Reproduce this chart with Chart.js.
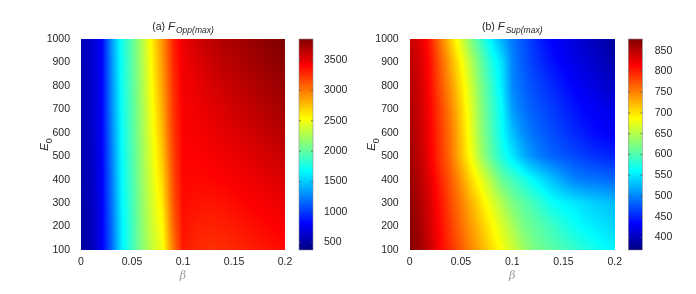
<!DOCTYPE html>
<html>
<head>
<meta charset="utf-8">
<script src="https://cdn.jsdelivr.net/npm/chart.js@4.4.1/dist/chart.umd.min.js"></script>
<style>
html,body{margin:0;padding:0;background:#fff;}
#wrap{position:relative;width:696px;height:294px;overflow:hidden;}
canvas{position:absolute;top:0;}
</style>
</head>
<body>
<div id="wrap">
<canvas id="c1" width="348" height="294" style="left:0"></canvas>
<canvas id="c2" width="348" height="294" style="left:348px"></canvas>
</div>
<script>
// ---- data ----
const betaValues = [0,0.01,0.02,0.03,0.04,0.05,0.06,0.07,0.08,0.09,0.10,0.11,0.12,0.13,0.14,0.15,0.16,0.17,0.18,0.19,0.20];
const e0Values = [100,200,300,400,500,600,700,800,900,1000];

// F_Opp(max): one row per E0 (100 -> 1000), one value per beta
const oppE100  = [480,560,760,1150,1620,1880,2140,2350,2500,2980,3330,3280,3260,3250,3260,3280,3300,3320,3340,3360,3380];
const oppE200  = [490,570,765,1170,1630,1890,2160,2380,2560,3050,3360,3320,3300,3300,3310,3330,3350,3370,3390,3410,3430];
const oppE300  = [500,580,770,1190,1650,1900,2175,2410,2620,3100,3380,3360,3350,3350,3360,3380,3400,3420,3440,3460,3480];
const oppE400  = [510,590,775,1210,1665,1920,2190,2440,2680,3140,3400,3390,3390,3400,3415,3435,3455,3475,3495,3515,3535];
const oppE500  = [520,600,778,1230,1680,1935,2205,2470,2740,3170,3410,3410,3420,3440,3460,3480,3500,3525,3550,3575,3600];
const oppE600  = [530,610,780,1250,1695,1950,2220,2500,2790,3200,3420,3430,3450,3475,3500,3525,3550,3580,3610,3640,3670];
const oppE700  = [538,618,783,1270,1708,1960,2235,2530,2830,3220,3430,3450,3480,3510,3540,3570,3600,3630,3660,3690,3720];
const oppE800  = [545,625,786,1285,1720,1970,2250,2560,2865,3240,3445,3470,3510,3550,3585,3615,3645,3675,3705,3735,3765];
const oppE900  = [553,633,788,1300,1730,1980,2265,2585,2895,3260,3460,3500,3555,3595,3635,3665,3695,3725,3755,3785,3810];
const oppE1000 = [560,640,790,1320,1740,1990,2280,2610,2920,3280,3480,3540,3600,3640,3680,3710,3740,3770,3800,3825,3850];

// F_Sup(max)
const supE100  = [876,863,840,814,792,770,748,727,705,685,665,644,623,614,605,597,588,579,571,563,557];
const supE200  = [873,860,835,810,785,761,738,715,692,669,646,623,612,601,590,578,567,558,552,546,540];
const supE300  = [870,856,832,806,778,753,726,700,674,648,623,608,594,579,564,557,550,543,537,532,528];
const supE400  = [866,850,826,798,770,740,706,677,645,612,595,578,560,544,528,513,500,494,491,488,485];
const supE500  = [862,845,818,788,759,720,683,640,605,575,550,525,505,492,483,476,470,464,458,454,450];
const supE600  = [858,842,817,786,756,717,675,632,597,563,530,505,490,479,470,462,454,446,438,433,428];
const supE700  = [855,840,814,782,750,711,671,627,593,560,512,493,480,471,462,453,444,435,430,425,420];
const supE800  = [852,838,810,775,740,702,662,620,586,551,502,485,472,462,452,443,433,425,418,411,405];
const supE900  = [848,835,808,768,730,690,650,610,575,545,500,480,465,452,440,431,423,415,408,400,393];
const supE1000 = [842,830,800,755,712,668,623,586,551,521,494,476,460,444,431,424,416,408,400,393,385];

const xTickValues = [0,0.05,0.1,0.15,0.2];
const yTickValues = [100,200,300,400,500,600,700,800,900,1000];
const oppBarTicks = [500,1000,1500,2000,2500,3000,3500];
const supBarTicks = [400,450,500,550,600,650,700,750,800,850];
const oppRange = [375,3845];
const supRange = [370,878];

const oppRows = [oppE100,oppE200,oppE300,oppE400,oppE500,oppE600,oppE700,oppE800,oppE900,oppE1000];
const supRows = [supE100,supE200,supE300,supE400,supE500,supE600,supE700,supE800,supE900,supE1000];

// ---- helpers ----
const FONT = "'Liberation Sans', Arial, Helvetica, sans-serif";
const TXT = '#262626';
function clamp(v,a,b){return v<a?a:(v>b?b:v);}
function jet(t){
  t = clamp(t,0,1);
  return [clamp(1.5-Math.abs(4*t-3),0,1), clamp(1.5-Math.abs(4*t-2),0,1), clamp(1.5-Math.abs(4*t-1),0,1)];
}
function locate(arr, v){
  if (v <= arr[0]) return [0,0];
  if (v >= arr[arr.length-1]) return [arr.length-2,1];
  for (let i=0;i<arr.length-1;i++){
    if (v>=arr[i] && v<=arr[i+1]) return [i,(v-arr[i])/(arr[i+1]-arr[i])];
  }
  return [0,0];
}
function sample(rows,b,e){
  const [i,fx] = locate(betaValues,b);
  const [j,fy] = locate(e0Values,e);
  const v00=rows[j][i], v01=rows[j][i+1], v10=rows[j+1][i], v11=rows[j+1][i+1];
  return (v00*(1-fx)+v01*fx)*(1-fy) + (v10*(1-fx)+v11*fx)*fy;
}

const heatPlugin = {
  id:'heat',
  beforeDatasetsDraw(chart){
    const o = chart.options.plugins.heat;
    const {ctx, chartArea:a, scales} = chart;
    const x = scales.x, y = scales.y, cb = scales.cb;
    const L = Math.round(x.getPixelForValue(betaValues[0]));
    const R = Math.round(x.getPixelForValue(betaValues[betaValues.length-1]));
    const T = Math.round(y.getPixelForValue(e0Values[e0Values.length-1]));
    const B = Math.round(y.getPixelForValue(e0Values[0]));
    const w = R-L, h = B-T;
    const off = document.createElement('canvas');
    off.width = w; off.height = h;
    const octx = off.getContext('2d');
    const img = octx.createImageData(w,h);
    const lo = o.range[0], hi = o.range[1];
    for (let py=0; py<h; py++){
      const ev = y.getValueForPixel(T+py+0.5);
      for (let px=0; px<w; px++){
        const bv = x.getValueForPixel(L+px+0.5);
        const v = sample(o.rows,bv,ev);
        const c = jet((v-lo)/(hi-lo));
        const k = (py*w+px)*4;
        img.data[k]=Math.round(c[0]*255); img.data[k+1]=Math.round(c[1]*255); img.data[k+2]=Math.round(c[2]*255); img.data[k+3]=255;
      }
    }
    octx.putImageData(img,0,0);
    ctx.save();
    ctx.drawImage(off,L,T);
    // colorbar
    const bx = a.right + o.gap, bw = o.barW;
    const yTop = cb.getPixelForValue(hi), yBot = cb.getPixelForValue(lo);
    const g = ctx.createLinearGradient(0,yBot,0,yTop);
    [0,0.125,0.375,0.625,0.875,1].forEach(s=>{const c=jet(s);g.addColorStop(s,`rgb(${Math.round(c[0]*255)},${Math.round(c[1]*255)},${Math.round(c[2]*255)})`);});
    ctx.fillStyle = g;
    ctx.fillRect(bx,yTop,bw,yBot-yTop);
    ctx.strokeStyle = '#8a8a8a'; ctx.lineWidth = 0.6;
    ctx.strokeRect(bx,yTop,bw,yBot-yTop);
    ctx.strokeStyle = '#555'; ctx.lineWidth = 0.7;
    cb.ticks.forEach(t=>{
      const yy = cb.getPixelForValue(t.value);
      ctx.beginPath(); ctx.moveTo(bx+bw-2,yy); ctx.lineTo(bx+bw,yy); ctx.stroke();
      ctx.beginPath(); ctx.moveTo(bx,yy); ctx.lineTo(bx+2,yy); ctx.stroke();
    });
    ctx.restore();
  },
  afterDraw(chart){
    const o = chart.options.plugins.heat;
    const {ctx, chartArea:a} = chart;
    ctx.save();
    ctx.fillStyle = TXT;
    ctx.textBaseline = 'alphabetic';
    // title
    const f1 = "10.5px "+FONT, f2 = "italic 11.5px "+FONT, f3 = "italic 8.5px "+FONT;
    ctx.font=f1; const w1 = ctx.measureText(o.label+' ').width;
    ctx.font=f2; const w2 = ctx.measureText('F').width+1;
    ctx.font=f3; const w3 = ctx.measureText(o.sub).width;
    let sx = (a.left+a.right)/2 - (w1+w2+w3)/2;
    ctx.textAlign='left';
    ctx.font=f1; ctx.fillText(o.label+' ',sx,29.5); sx+=w1;
    ctx.font=f2; ctx.fillText('F',sx,29.5); sx+=w2;
    ctx.font=f3; ctx.fillText(o.sub,sx,32.5);
    // beta label
    ctx.fillStyle='#9a9a9a';
    ctx.font="italic 11px 'DejaVu Serif', 'Liberation Serif', serif";
    ctx.textAlign='center'; ctx.textBaseline='middle';
    ctx.fillText('\u03B2',(a.left+a.right)/2,276);
    // E0 label
    ctx.fillStyle=TXT;
    ctx.translate(o.eX,(a.top+a.bottom)/2);
    ctx.rotate(-Math.PI/2);
    ctx.textBaseline='alphabetic'; ctx.textAlign='left';
    const fe="italic 11.5px "+FONT, fs="9px "+FONT;
    ctx.font=fe; const we=ctx.measureText('E').width;
    ctx.font=fs; const ws=ctx.measureText('0').width;
    const s0 = -(we+ws)/2;
    ctx.font=fe; ctx.fillText('E',s0,4);
    ctx.font=fs; ctx.fillText('0',s0+we,7.5);
    ctx.restore();
  }
};

function makeChart(id, p){
  const nodes = [];
  e0Values.forEach((e,j)=>betaValues.forEach((b,i)=>nodes.push({x:b,y:e,v:p.rows[j][i]})));
  const tickFont = {family:FONT, size:10.5};
  return new Chart(document.getElementById(id), {
    type:'scatter',
    data:{datasets:[{data:nodes, pointRadius:0, pointHoverRadius:0, showLine:false}]},
    options:{
      responsive:false, animation:false, events:[],
      layout:{padding:{top:39,left:0,right:0,bottom:0}},
      plugins:{legend:{display:false}, tooltip:{enabled:false}, title:{display:false},
        heat:{rows:p.rows, range:p.range, label:p.label, sub:p.sub, gap:p.gap, barW:14, eX:p.eX}},
      scales:{
        x:{type:'linear', position:'bottom', min:0, max:0.2,
           grid:{display:false}, border:{display:false},
           afterBuildTicks:s=>{s.ticks = xTickValues.map(v=>({value:v}));},
           ticks:{padding:-2, font:tickFont, color:TXT, autoSkip:false, maxRotation:0, callback:v=>String(v)},
           afterFit:s=>{s.height=44;}},
        y:{type:'linear', position:'left', min:100, max:1000,
           grid:{display:false}, border:{display:false},
           afterBuildTicks:s=>{s.ticks = yTickValues.map(v=>({value:v}));},
           ticks:{padding:3, font:tickFont, color:TXT, autoSkip:false, callback:v=>String(v)},
           afterFit:s=>{s.width=p.yW;}},
        cb:{type:'linear', position:'right', min:p.range[0], max:p.range[1],
           grid:{display:false}, border:{display:false},
           afterBuildTicks:s=>{s.ticks = p.barTicks.map(v=>({value:v}));},
           ticks:{padding:p.cbPad, font:tickFont, color:TXT, autoSkip:false, callback:v=>String(v)},
           afterFit:s=>{s.width=p.cbW;}}
      }
    },
    plugins:[heatPlugin]
  });
}

makeChart('c1',{rows:oppRows, range:oppRange, barTicks:oppBarTicks, label:'(a)', sub:'Opp(max)',
  yW:81, cbW:63, cbPad:31, gap:14, eX:44});
makeChart('c2',{rows:supRows, range:supRange, barTicks:supBarTicks, label:'(b)', sub:'Sup(max)',
  yW:61.7, cbW:81.3, cbPad:32, gap:13.6, eX:23});
</script>
</body>
</html>
